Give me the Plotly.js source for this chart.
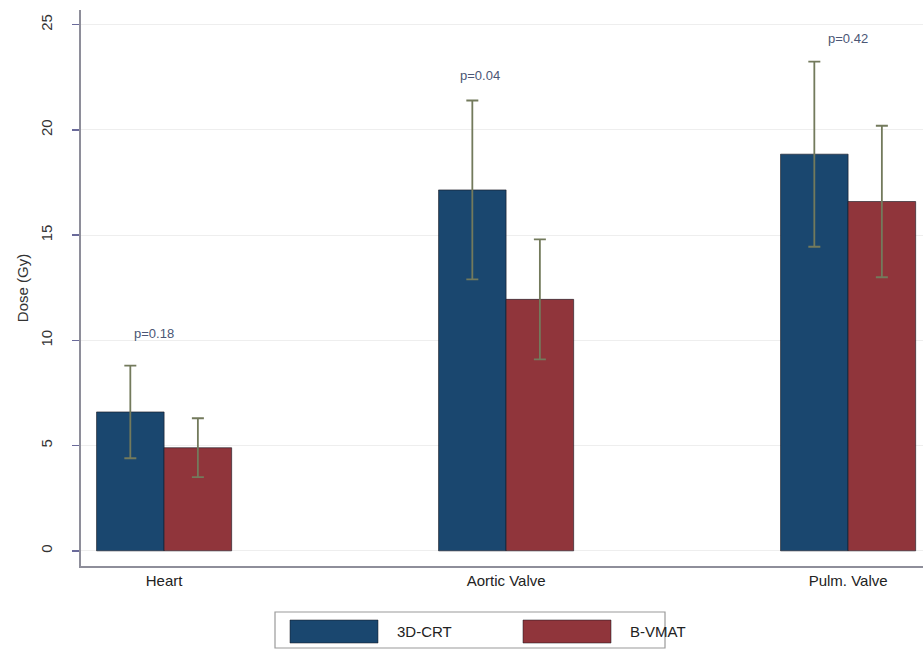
<!DOCTYPE html>
<html>
<head>
<meta charset="utf-8">
<script src="https://cdn.plot.ly/plotly-3.0.1.min.js"></script>
<style>html,body{margin:0;padding:0;background:#fff;}#chart{width:923px;height:655px;}</style>
</head>
<body>
<div id="chart"></div>
<script>
// ---- data ----
const categories = ["Heart", "Aortic Valve", "Pulm. Valve"];
const seriesNames = ["3D-CRT", "B-VMAT"];
const crtValues = [6.6, 17.15, 18.85];
const crtErrors = [2.2, 4.25, 4.4];
const vmatValues = [4.9, 11.95, 16.6];
const vmatErrors = [1.4, 2.85, 3.6];
const pLabels = ["p=0.18", "p=0.04", "p=0.42"];
const yTicks = [0, 5, 10, 15, 20, 25];

// ---- styles ----
const colors = ["#1a476f", "#90353b"];
const errColor = "#737a5c";
const xIdx = categories.map((c, i) => i);

function barTrace(name, vals, errs, color) {
  return {
    type: "bar", name: name, x: xIdx, y: vals,
    marker: {color: color, line: {color: "rgba(20,20,30,0.6)", width: 1}},
    error_y: {type: "data", array: errs, visible: true, color: errColor, thickness: 1.8, width: 6},
    hoverinfo: "skip"
  };
}
const traces = [
  barTrace(seriesNames[0], crtValues, crtErrors, colors[0]),
  barTrace(seriesNames[1], vmatValues, vmatErrors, colors[1])
];

// p-value labels placed above the highest error bar of each group
const pOffsets = [-0.03, -0.075, 0.0];
const pPad = [1.1, 0.75, 0.65];
const annotations = categories.map((c, i) => ({
  x: i + pOffsets[i], y: Math.max(crtValues[i] + crtErrors[i], vmatValues[i] + vmatErrors[i]) + pPad[i],
  xref: "x", yref: "y", text: pLabels[i], showarrow: false, yanchor: "bottom",
  font: {family: "Liberation Sans, Arial, sans-serif", size: 13, color: "#4b5675"}
}));

// custom legend (wide swatches, Stata style)
const shapes = [{
  type: "rect", xref: "paper", yref: "paper",
  x0: (275 - 81) / 842, x1: (665 - 81) / 842, y0: -(648 - 566) / 556, y1: -(612 - 566) / 556,
  line: {color: "#9a9a9a", width: 1.2}, fillcolor: "#ffffff"
}];
const swatchX = [290, 523];
seriesNames.forEach((n, i) => {
  shapes.push({
    type: "rect", xref: "paper", yref: "paper",
    x0: (swatchX[i] - 81) / 842, x1: (swatchX[i] + 88 - 81) / 842,
    y0: -(643 - 566) / 556, y1: -(620 - 566) / 556,
    line: {color: "rgba(20,20,30,0.5)", width: 1}, fillcolor: colors[i]
  });
  annotations.push({
    xref: "paper", yref: "paper", x: (swatchX[i] + 105 - 81) / 842, y: -(631 - 566) / 556,
    xanchor: "left", yanchor: "middle", text: n, showarrow: false,
    font: {family: "Liberation Sans, Arial, sans-serif", size: 15, color: "#222"}
  });
});

const layout = {
  width: 923, height: 655,
  margin: {l: 81, r: 0, t: 10, b: 89},
  paper_bgcolor: "#ffffff", plot_bgcolor: "#ffffff",
  font: {family: "Liberation Sans, Arial, sans-serif", size: 13, color: "#333"},
  showlegend: false,
  barmode: "group", bargap: 0.605, bargroupgap: 0,
  xaxis: {
    range: [-0.243, 2.219], tickmode: "array", tickvals: xIdx, ticktext: categories,
    showline: true, linecolor: "#8e8e9a", linewidth: 1.6, ticks: "", showgrid: false,
    zeroline: false, tickfont: {size: 15, color: "#222"}, fixedrange: true
  },
  yaxis: {
    range: [-0.72, 25.7], tickmode: "array", tickvals: yTicks, ticktext: yTicks.map(String),
    tickangle: -90, ticks: "outside", ticklen: 7, tickcolor: "#6a6a9a", tickwidth: 1.5,
    ticklabelstandoff: 14,
    showline: true, linecolor: "#8e8e9a", linewidth: 1.6,
    showgrid: true, gridcolor: "#eeeeee", gridwidth: 1, zeroline: false,
    tickfont: {size: 15, color: "#333"},
    title: {text: "Dose (Gy)", font: {size: 15, color: "#333"}, standoff: 6}
  },
  annotations: annotations,
  shapes: shapes
};

Plotly.newPlot("chart", traces, layout, {displayModeBar: false, staticPlot: true});
</script>
</body>
</html>
